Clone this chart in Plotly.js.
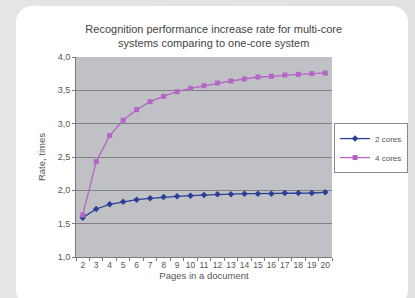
<!DOCTYPE html>
<html><head><meta charset="utf-8">
<script src="https://cdn.plot.ly/plotly-3.0.1.min.js"></script>
<style>
html,body{margin:0;padding:0;width:415px;height:298px;overflow:hidden;background:linear-gradient(90deg,#e4e5e7,#dfe1e3);}
#card{position:absolute;left:16px;top:6px;width:392px;height:300px;background:#fff;border-radius:16px;}
#chart{position:absolute;left:0;top:0;width:415px;height:298px;}
</style></head>
<body><div id="card"></div><div id="chart"></div>
<script>
const pages = [2,3,4,5,6,7,8,9,10,11,12,13,14,15,16,17,18,19,20];
const cores2 = [1.59,1.72,1.79,1.83,1.86,1.88,1.90,1.91,1.92,1.93,1.94,1.94,1.95,1.95,1.95,1.96,1.96,1.96,1.97];
const cores4 = [1.63,2.43,2.82,3.05,3.21,3.33,3.41,3.48,3.53,3.57,3.61,3.64,3.67,3.70,3.71,3.73,3.74,3.75,3.76];
const seriesNames = ['2 cores','4 cores'];
const font = 'Liberation Sans, Arial, sans-serif';
const data = [
  {x: pages.map(String), y: cores2, name: seriesNames[0], type:'scatter', mode:'lines+markers',
   line:{color:'#2a3f96', width:1.3}, marker:{symbol:'diamond', size:5, color:'#2a3f96'}},
  {x: pages.map(String), y: cores4, name: seriesNames[1], type:'scatter', mode:'lines+markers',
   line:{color:'#b465c6', width:1.3}, marker:{symbol:'square', size:5, color:'#b465c6'}}
];
const layout = {
  width:415, height:298,
  margin:{l:76, r:83, t:57, b:41, pad:0, autoexpand:false},
  paper_bgcolor:'rgba(0,0,0,0)', plot_bgcolor:'#c0c1c5',
  separators:', ',
  font:{family:font, color:'#444', size:9},
  title:{text:'Recognition performance increase rate for multi-core<br>systems comparing to one-core system',
    x:0.515, xanchor:'center', yref:'container', y:0.89, yanchor:'top', font:{size:11, color:'#444', family:font}},
  xaxis:{type:'category', range:[-0.5,18.5], showgrid:false, showline:true, linecolor:'#7a7a7a', linewidth:1,
    ticks:'outside', tickson:'boundaries', ticklen:3, tickcolor:'#7a7a7a', tickangle:0, tickfont:{size:8.5, color:'#555'},
    title:{text:'Pages in a document', font:{size:9.5, color:'#555'}, standoff:2}},
  yaxis:{range:[1,4], dtick:0.5, tickformat:'.1f', showgrid:true, gridcolor:'#7f8083', gridwidth:1,
    showline:true, linecolor:'#7a7a7a', ticks:'outside', ticklen:3, tickcolor:'#7a7a7a',
    tickfont:{size:9, color:'#555'}, zeroline:false,
    title:{text:'Rate, times', font:{size:9.5, color:'#555'}, standoff:10}},
  legend:{xref:'container', yref:'container', x:0.805, y:0.587, xanchor:'left', yanchor:'top', bgcolor:'#fff', bordercolor:'#8a8a8a', borderwidth:1,
    font:{size:8, color:'#555'}, itemwidth:30, tracegroupgap:0},
  showlegend:true
};
Plotly.newPlot('chart', data, layout, {displayModeBar:false, staticPlot:true});
</script></body></html>
